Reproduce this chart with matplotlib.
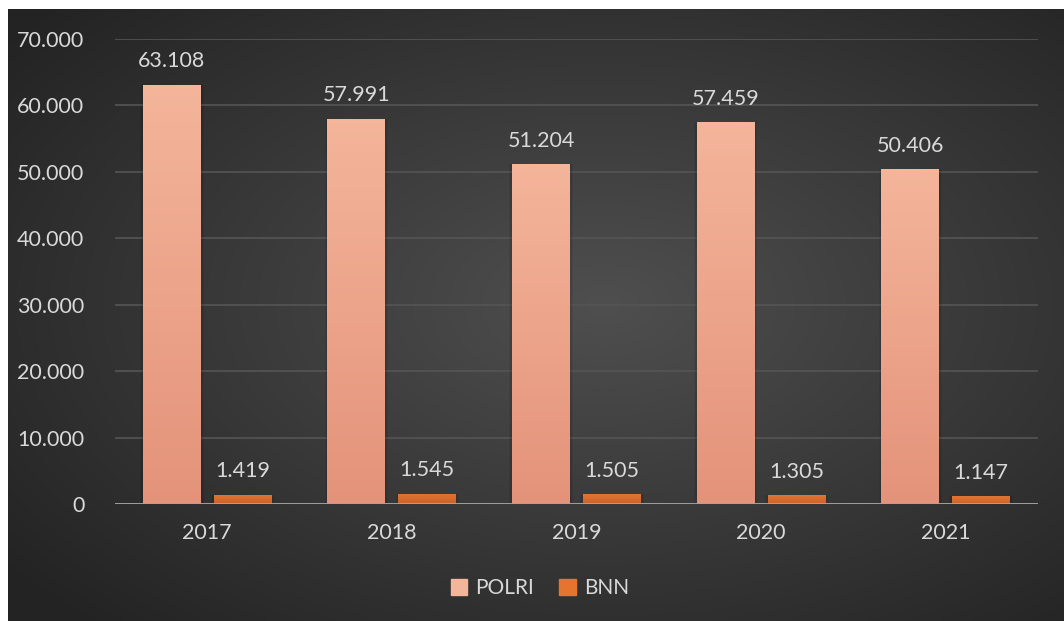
import numpy as np
import matplotlib.pyplot as plt
from matplotlib.ticker import FuncFormatter
from matplotlib.patches import Patch

# data
years = ['2017', '2018', '2019', '2020', '2021']
polri = [63108, 57991, 51204, 57459, 50406]
bnn = [1419, 1545, 1505, 1305, 1147]

plt.rcParams['font.family'] = ['Lato', 'DejaVu Sans']
txt = '#d9d9d9'

W, H = 1064, 621
fig = plt.figure(figsize=(W / 100, H / 100), dpi=100, facecolor='white')

# background with radial gradient
bg = fig.add_axes([0, 0, 1, 1])
yy, xx = np.mgrid[0:H, 0:W]
r = np.sqrt(((xx - 600) / W) ** 2 + ((yy - 300) / H) ** 2)
shade = np.clip(0.31 - 0.24 * r, 0.14, 0.31)
img = np.dstack([shade, shade, shade])
bg.imshow(img, extent=(8, W, H, 9), aspect='auto', zorder=0)
bg.set_xlim(0, W)
bg.set_ylim(H, 0)
bg.axis('off')


def fmt(v, pos=None):
    return f'{int(v):,}'.replace(',', '.')


x0, x1 = 115, 1038
yb, yt = 504, 39
ax = fig.add_axes([x0 / W, (H - yb) / H, (x1 - x0) / W, (yb - yt) / H])
ax.set_facecolor('none')

x = np.arange(len(years))
w = 0.314
off = 0.192


def grad_bars(xs, vals, top, bottom):
    bars = ax.bar(xs, vals, w, color=top, zorder=3)
    grad = np.linspace(0, 1, 100).reshape(-1, 1)
    c1 = np.array(plt.matplotlib.colors.to_rgb(top))
    c2 = np.array(plt.matplotlib.colors.to_rgb(bottom))
    g = c1[None, None, :] * (1 - grad[:, :, None]) + c2[None, None, :] * grad[:, :, None]
    for b in bars:
        bx, by = b.get_x(), b.get_y()
        bw, bh = b.get_width(), b.get_height()
        # soft shadow
        for k, a in [(0.03, 0.05), (0.018, 0.07)]:
            ax.bar(bx + bw / 2, bh, bw + k, color='black', alpha=a, zorder=2)
        im = ax.imshow(g, extent=(bx, bx + bw, by, by + bh), aspect='auto', zorder=4, origin='upper')
        im.set_clip_path(b)
    return bars


grad_bars(x - off, polri, '#f4b59b', '#e4937a')
grad_bars(x + off, bnn, '#e5742f', '#cc6128')

for i in range(len(years)):
    ax.text(x[i] - off, polri[i] + 2000, fmt(polri[i]), ha='center', va='bottom',
            color=txt, fontsize=15.5, zorder=5)
    ax.text(x[i] + off, bnn[i] + 2000, fmt(bnn[i]), ha='center', va='bottom',
            color=txt, fontsize=15.5, zorder=5)

ax.set_xlim(-0.5, len(years) - 0.5)
ax.set_ylim(0, 70000)
ax.set_yticks(np.arange(0, 70001, 10000))
ax.yaxis.set_major_formatter(FuncFormatter(fmt))
ax.set_xticks(x)
ax.set_xticklabels(years)
ax.tick_params(axis='both', length=0, colors=txt, labelsize=15.5)
ax.tick_params(axis='y', pad=22)
ax.tick_params(axis='x', pad=14)
ax.grid(axis='y', color='#555555', lw=1.2, zorder=0)
ax.set_axisbelow(True)
for s in ax.spines.values():
    s.set_visible(False)
ax.axhline(0, color='#a6a6a6', lw=2, zorder=6)

handles = [Patch(color='#f4b59b', label='POLRI'), Patch(color='#e5742f', label='BNN')]
fig.legend(handles=handles, loc='center', bbox_to_anchor=(540 / W, (H - 588) / H), ncol=2,
           frameon=False, fontsize=15, labelcolor=txt, handlelength=0.8, handleheight=0.8,
           handletextpad=0.4, columnspacing=1.2)

fig.savefig('out.png', dpi=100, facecolor='white')
